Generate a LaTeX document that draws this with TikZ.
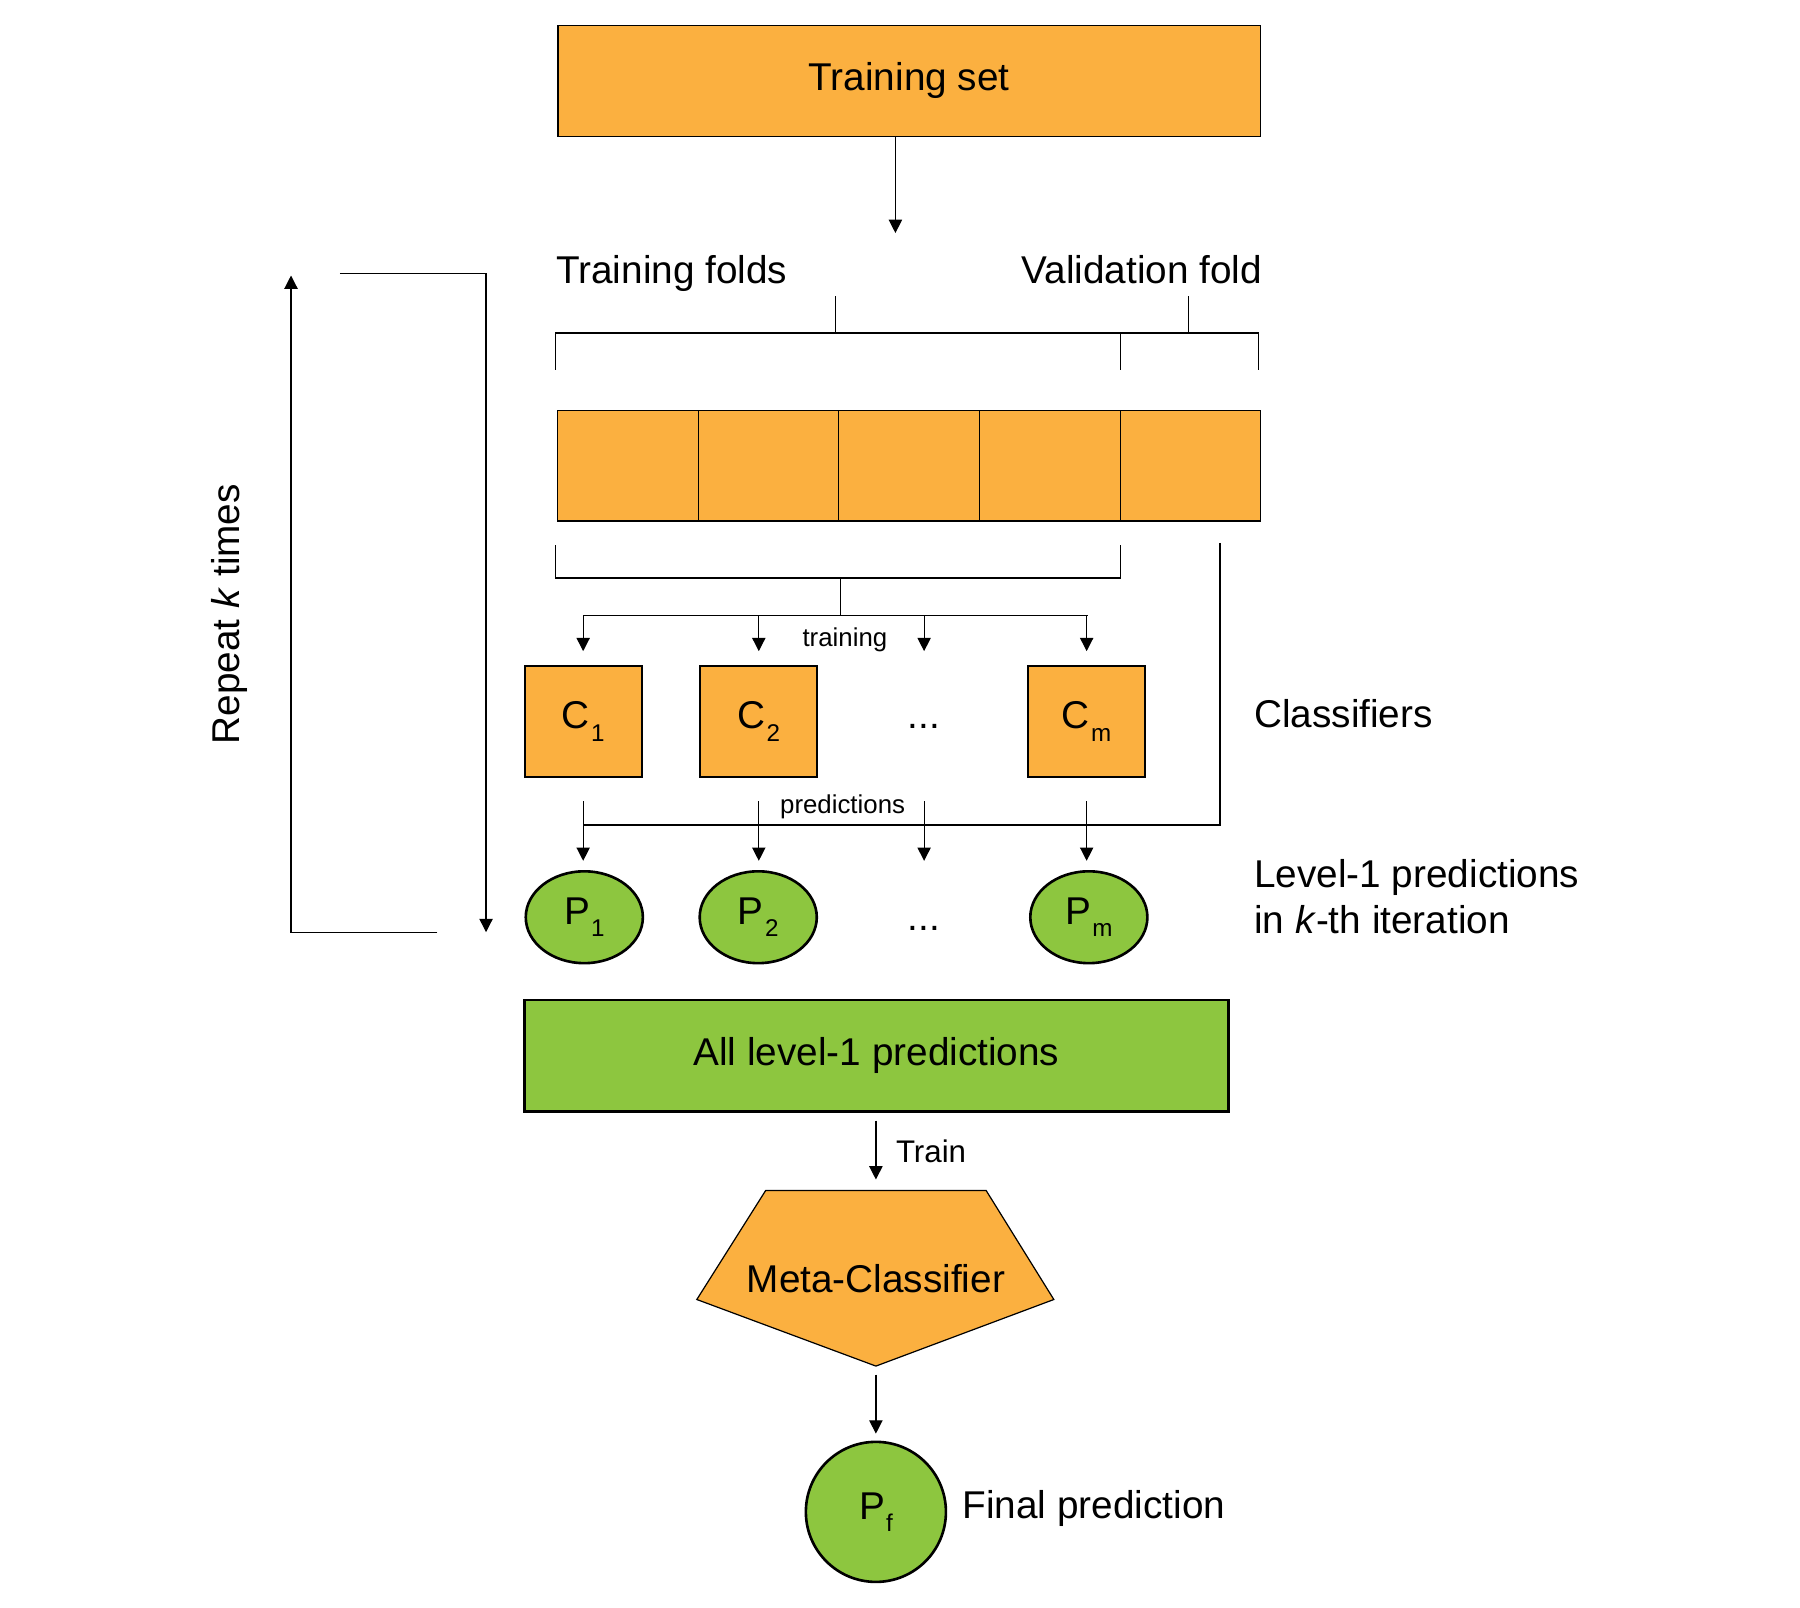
\documentclass[tikz,border=0pt]{standalone}
\usepackage{fontspec}
\setmainfont{Liberation Sans}
\usetikzlibrary{positioning,arrows.meta,shapes.geometric}
\definecolor{foldorange}{RGB}{251,176,64}
\definecolor{predgreen}{RGB}{141,198,63}
\newcommand{\lowidx}[1]{\kern0.6pt\raisebox{-6pt}{\fontsize{12}{12}\selectfont #1}}

\begin{document}
\begin{tikzpicture}[x=0.2mm, y=-0.2mm, line width=0.6pt,
	every node/.style={font=\fontsize{19.2}{22.8}\selectfont},
	txt/.style={inner sep=0pt},
	arr/.style={-{Triangle[length=6.6pt,width=6.6pt]}},
	wide/.style={draw, fill=foldorange, minimum width=122.4mm, minimum height=19.4mm},
	fold/.style={draw, fill=foldorange, minimum width=24.5mm, minimum height=19.3mm},
	clf/.style={draw, line width=0.9pt, fill=foldorange, minimum width=20.4mm, minimum height=19.4mm, inner sep=0pt},
	pred/.style={ellipse, draw, line width=1.3pt, fill=predgreen, minimum width=20.4mm, minimum height=16mm, inner sep=0pt},
	small/.style={font=\fontsize{12.8}{14}\selectfont}]
	\useasboundingbox (0,0) rectangle (1568,1400);

	\node[wide] (set) at (792,70.5) {Training set};
	\coordinate (split) at (780,203);
	\draw[arr] (set.south -| split) -- (split);

	\node[txt, anchor=base west] (tf) at (484,247) {Training folds};
	\node[txt, anchor=base east] (vf) at (1100,247) {Validation fold};
	\draw (484,322) -- (484,290) -- (1096,290) -- (1096,322);
	\draw (976,290) -- (976,322);
	\draw (728,258) -- (728,290);
	\draw (1035,258) -- (1035,290);

	\foreach \i in {1,...,5}
		\node[fold] (f\i) at ({424.5+122.5*\i},405.5) {};

	\draw (484,475) -- (484,503.5) -- (976,503.5) -- (976,475);
	\coordinate (dist) at (732,536);
	\draw (732,503.5) -- (dist);
	\draw (509,536) -- (948,536);

	\node[clf] (c1) at (508,628.5) {C\lowidx{1}};
	\node[clf] (c2) at (661,628.5) {C\lowidx{2}};
	\node (c3) at (805,633) {...};
	\node[clf] (cm) at (946.6,628.5) {C\lowidx{m}};
	\node[small] (trn) at (736,557) {training};
	\node[txt, anchor=base west] (cls) at (1092,634) {Classifiers};

	\foreach \c in {c1,c2,c3,cm}
		\draw[arr, shorten >=2.4mm] (\c |- dist) -- (\c |- c1.north);

	\node[pred] (p1) at (509,799) {P\lowidx{1}};
	\node[pred] (p2) at (660.5,799) {P\lowidx{2}};
	\node (p3) at (805,809) {...};
	\node[pred] (pm) at (948.5,799) {P\lowidx{m}};
	\node[small] (prd) at (734,703) {predictions};
	\node[txt, anchor=base west] (lvl) at (1092,773) {Level-1 predictions};
	\node[txt, anchor=base west] (iter) at (1092,813) {in \textit{k}-th iteration};

	\draw[arr, shorten <=4mm, shorten >=1.6mm] (c1.south) -- (c1.south |- p1.north);
	\draw[arr, shorten <=4mm, shorten >=1.6mm] (c2.south) -- (c2.south |- p1.north);
	\draw[arr, shorten <=4mm, shorten >=1.6mm] (c3 |- c1.south) -- (c3 |- p1.north);
	\draw[arr, shorten <=4mm, shorten >=1.6mm] (cm.south) -- (cm.south |- p1.north);

	\coordinate (vtop) at (1062.8,473);
	\coordinate (vbot) at (1062.8,718.6);
	\draw (vtop) -- (vbot) -- (c1 |- vbot);

	\coordinate (lb) at (381,812);
	\coordinate (lt) at (296,238);
	\draw[arr] (lb) -- ++(-127.5,0) -- ++(0,-572);
	\draw[arr] (lt) -- ++(127.4,0) -- ++(0,574);
	\node[rotate=90] (rep) at (200,535) {Repeat \textit{k} times};

	\node[draw, line width=1.3pt, fill=predgreen, minimum width=122.6mm, minimum height=19.4mm] (all) at (763.5,919.5) {All level-1 predictions};

	\draw[fill=foldorange] (667,1037) -- (859,1037) -- (918,1132) -- (763,1190) -- (607,1132) -- cycle;
	\node[minimum width=62.2mm, minimum height=30.6mm] (meta) at (763,1113.5) {Meta-Classifier};
	\draw[arr, shorten <=1.4mm, shorten >=1.8mm] (meta.north |- all.south) -- (meta.north);
	\node[txt, anchor=base west, font=\fontsize{15.5}{18}\selectfont] (train) at (780,1013) {Train};

	\node[circle, draw, line width=1.3pt, fill=predgreen, minimum size=24.4mm, inner sep=0pt] (pf) at (763,1317) {P\lowidx{f}};
	\draw[arr, shorten <=1.4mm, shorten >=1.2mm] (meta.south) -- (pf.north);
	\node[txt, anchor=base west] (fin) at (838,1323) {Final prediction};
\end{tikzpicture}
\end{document}
